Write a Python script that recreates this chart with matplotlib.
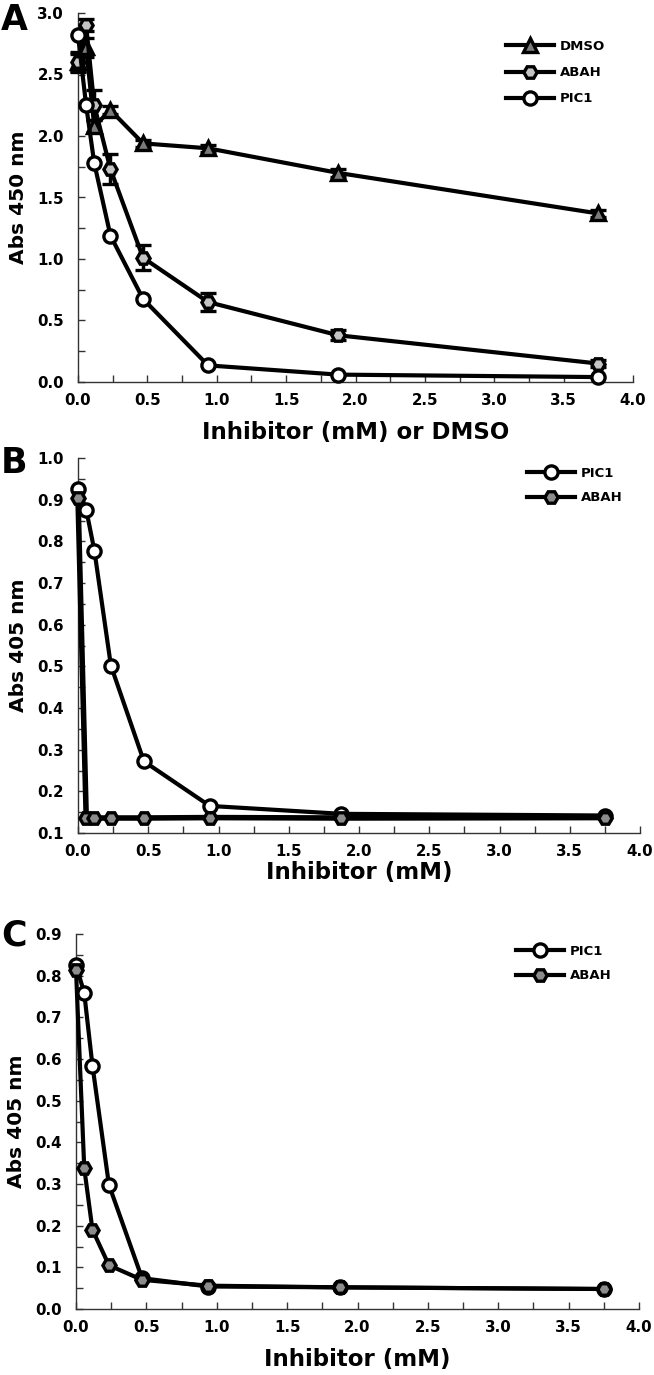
import matplotlib
matplotlib.use("Agg")
import matplotlib.pyplot as plt
from matplotlib.ticker import MultipleLocator, FormatStrFormatter
from matplotlib.lines import Line2D

plt.rcParams['font.family'] = ['DejaVu Sans']
plt.rcParams['font.weight'] = 'bold'

# ---------------- data ----------------
conc = [0.0, 0.0586, 0.117, 0.234, 0.469, 0.9375, 1.875, 3.75]

# Panel A (Abs 450 nm)
a_dmso = [2.60, 2.72, 2.08, 2.21, 1.94, 1.90, 1.70, 1.37]
a_dmso_err = [0.08, 0.08, 0.05, 0.03, 0.03, 0.03, 0.03, 0.03]
a_abah = [2.60, 2.90, 2.25, 1.73, 1.01, 0.65, 0.38, 0.15]
a_abah_err = [0.07, 0.05, 0.12, 0.12, 0.10, 0.07, 0.04, 0.03]
a_pic1 = [2.82, 2.25, 1.78, 1.19, 0.675, 0.135, 0.06, 0.04]

# Panel B (Abs 405 nm)
b_pic1 = [0.926, 0.876, 0.777, 0.502, 0.272, 0.165, 0.146, 0.142]
b_abah = [0.904, 0.136, 0.136, 0.136, 0.136, 0.137, 0.136, 0.137]

# Panel C (Abs 405 nm)
c_pic1 = [0.826, 0.758, 0.584, 0.298, 0.074, 0.054, 0.052, 0.048]
c_abah = [0.814, 0.338, 0.190, 0.105, 0.070, 0.056, 0.052, 0.048]

W, H = 654, 1375
fig = plt.figure(figsize=(W / 100, H / 100), dpi=100)


def add_ax(left, right, top, bottom):
    return fig.add_axes([left / W, 1 - bottom / H, (right - left) / W, (bottom - top) / H])


def style(ax, ymax, ymaj, ymin_step, ymin=0.0):
    ax.set_xlim(0, 4.0)
    ax.set_ylim(ymin, ymax)
    ax.xaxis.set_major_locator(MultipleLocator(0.5))
    ax.xaxis.set_minor_locator(MultipleLocator(0.25))
    ax.yaxis.set_major_locator(MultipleLocator(ymaj))
    ax.yaxis.set_minor_locator(MultipleLocator(ymin_step))
    ax.xaxis.set_major_formatter(FormatStrFormatter('%.1f'))
    ax.yaxis.set_major_formatter(FormatStrFormatter('%.1f'))
    for s in ['top', 'right']:
        ax.spines[s].set_visible(False)
    for s in ['left', 'bottom']:
        ax.spines[s].set_color('#333333')
        ax.spines[s].set_linewidth(1.0)
    ax.tick_params(axis='both', which='both', direction='in', length=5, width=1,
                   color='#333333', labelsize=10.8)
    ax.tick_params(axis='y', which='both', pad=10)
    ax.tick_params(axis='x', which='both', pad=8)
    for lab in ax.get_xticklabels() + ax.get_yticklabels():
        lab.set_fontweight('bold')


LW = 3.0
MS = 9.5
MEW = 2.4
GRAY_A = '#c4c4c4'
GRAY_T = '#7a7a7a'
GRAY_BC = '#8c8c8c'


def proxy(marker, fc):
    return Line2D([], [], color='black', lw=LW, marker=marker, ms=MS, mfc=fc,
                  mec='black', mew=MEW)


leg_kw = dict(bbox_transform=fig.transFigure, frameon=False, borderpad=0,
              borderaxespad=0, handlelength=3.6, handletextpad=0.5,
              prop={'size': 9.5, 'weight': 'bold'}, loc='upper left')

# ---------------- Panel A ----------------
axA = add_ax(78, 633, 13, 382)
style(axA, 3.0, 0.5, 0.25)
axA.errorbar(conc, a_dmso, yerr=a_dmso_err, color='black', lw=LW, marker='^', ms=MS + 0.5,
             mfc=GRAY_T, mec='black', mew=MEW, capsize=6, capthick=2.5, elinewidth=2.5,
             zorder=3, clip_on=False)
axA.errorbar(conc, a_abah, yerr=a_abah_err, color='black', lw=LW, marker='H', ms=MS,
             mfc=GRAY_A, mec='black', mew=MEW, capsize=6, capthick=2.5, elinewidth=2.5,
             zorder=3, clip_on=False)
axA.plot(conc, a_pic1, color='black', lw=LW, marker='o', ms=MS, mfc='white',
         mec='black', mew=MEW, zorder=4, clip_on=False)
axA.set_ylabel('Abs 450 nm', fontsize=14.5, fontweight='bold', labelpad=7)
axA.set_xlabel('Inhibitor (mM) or DMSO', fontsize=16.5, fontweight='bold', labelpad=9)
axA.legend([proxy('^', GRAY_T), proxy('H', GRAY_A), proxy('o', 'white')],
           ['DMSO', 'ABAH', 'PIC1'], bbox_to_anchor=(506 / W, 1 - 40 / H),
           labelspacing=1.0, **leg_kw)
fig.text(1 / W, 1 - 30 / H, 'A', fontsize=25, fontweight='bold', ha='left', va='baseline')

# ---------------- Panel B ----------------
axB = add_ax(78, 640, 458, 833)
style(axB, 1.0, 0.1, 0.05, ymin=0.1)
axB.plot(conc, b_pic1, color='black', lw=LW, marker='o', ms=MS, mfc='white',
         mec='black', mew=MEW, zorder=3, clip_on=False)
axB.plot(conc, b_abah, color='black', lw=LW + 1, marker='H', ms=MS, mfc=GRAY_BC,
         mec='black', mew=MEW, zorder=4, clip_on=False)
axB.set_ylabel('Abs 405 nm', fontsize=14.5, fontweight='bold', labelpad=7)
axB.set_xlabel('Inhibitor (mM)', fontsize=16.5, fontweight='bold', labelpad=1)
axB.legend([proxy('o', 'white'), proxy('H', GRAY_BC)], ['PIC1', 'ABAH'],
           bbox_to_anchor=(527 / W, 1 - 467 / H), labelspacing=0.85, **leg_kw)
fig.text(1 / W, 1 - 473 / H, 'B', fontsize=25, fontweight='bold', ha='left', va='baseline')

# ---------------- Panel C ----------------
axC = add_ax(76, 639, 934, 1309)
style(axC, 0.9, 0.1, 0.05)
axC.plot(conc, c_pic1, color='black', lw=LW, marker='o', ms=MS, mfc='white',
         mec='black', mew=MEW, zorder=3, clip_on=False)
axC.plot(conc, c_abah, color='black', lw=LW, marker='H', ms=MS, mfc=GRAY_BC,
         mec='black', mew=MEW, zorder=4, clip_on=False)
axC.set_ylabel('Abs 405 nm', fontsize=14.5, fontweight='bold', labelpad=7)
axC.set_xlabel('Inhibitor (mM)', fontsize=16.5, fontweight='bold', labelpad=9)
axC.legend([proxy('o', 'white'), proxy('H', GRAY_BC)], ['PIC1', 'ABAH'],
           bbox_to_anchor=(516 / W, 1 - 945 / H), labelspacing=0.85, **leg_kw)
fig.text(1 / W, 1 - 946 / H, 'C', fontsize=25, fontweight='bold', ha='left', va='baseline')

fig.savefig('out.png', dpi=100, facecolor='white')
